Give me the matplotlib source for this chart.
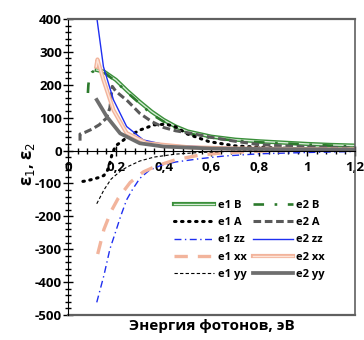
import matplotlib
matplotlib.use('Agg')
import matplotlib.pyplot as plt
import matplotlib.patheffects as pe
from matplotlib.ticker import MultipleLocator, FixedLocator

plt.rcParams['font.family'] = ['Open Sans', 'DejaVu Sans']
plt.rcParams['axes.unicode_minus'] = False

# e1 B / e2 B
x_e1B = [0.12, 0.15, 0.2, 0.25, 0.3, 0.35, 0.4, 0.45, 0.5, 0.6, 0.7, 0.8, 0.9, 1.0, 1.1, 1.2]
y_e1B = [245, 240, 215, 180, 148, 118, 93, 73, 58, 42, 33, 28, 24, 20, 17, 15]
x_e2B = [0.083, 0.085, 0.09, 0.1, 0.11, 0.12, 0.13, 0.15, 0.2, 0.25, 0.3, 0.35, 0.4,
         0.45, 0.5, 0.6, 0.7, 0.8, 0.9, 1.0, 1.1, 1.2]
y_e2B = [175, 200, 225, 238, 243, 245, 244, 238, 210, 175, 143, 110, 88, 68, 52, 38,
         30, 25, 22, 18, 15, 12]
# e1 A / e2 A
x_e1A = [0.062, 0.08, 0.1, 0.13, 0.15, 0.165, 0.175, 0.185, 0.2, 0.22, 0.25, 0.3, 0.36,
         0.41, 0.45, 0.5, 0.59, 0.7, 0.8, 0.9, 1.0, 1.1, 1.2]
y_e1A = [-94, -92, -88, -82, -76, -60, -38, -8, 15, 25, 42, 62, 78, 80, 72, 50, 27, 14,
         10, 7, 5, 4, 3]
x_e2A = [0.05, 0.05, 0.07, 0.1, 0.13, 0.16, 0.175, 0.185, 0.2, 0.25, 0.3, 0.35, 0.4,
         0.45, 0.5, 0.6, 0.7, 0.8, 0.9, 1.0, 1.1, 1.2]
y_e2A = [30, 50, 55, 65, 78, 98, 130, 195, 180, 150, 113, 88, 70, 60, 54, 40, 28, 18,
         14, 11, 9, 8]
# e1 zz / e2 zz
x_e1zz = [0.12, 0.15, 0.175, 0.2, 0.22, 0.245, 0.27, 0.3, 0.34, 0.39, 0.45, 0.55, 0.65,
          0.8, 1.0, 1.2]
y_e1zz = [-462, -380, -300, -245, -200, -150, -118, -85, -60, -45, -35, -25, -17, -10,
          -6, -3]
x_e2zz = [0.117, 0.121, 0.148, 0.19, 0.245, 0.315, 0.41, 0.6, 0.8, 1.0, 1.2]
y_e2zz = [440, 400, 255, 154, 73, 32, 17, 10, 7, 5, 4]
# e1 xx / e2 xx
x_e1xx = [0.124, 0.15, 0.18, 0.21, 0.26, 0.315, 0.37, 0.45, 0.55, 0.65, 0.8, 1.0, 1.2]
y_e1xx = [-315, -240, -185, -145, -97, -65, -47, -28, -14, -7, -2, 2, 5]
x_e2xx = [0.118, 0.123, 0.148, 0.19, 0.245, 0.33, 0.5, 0.7, 1.0, 1.2]
y_e2xx = [255, 277, 215, 123, 53, 22, 10, 6, 4, 3]
# e1 yy / e2 yy
x_e1yy = [0.12, 0.15, 0.18, 0.22, 0.25, 0.3, 0.36, 0.45, 0.55, 0.7, 0.9, 1.2]
y_e1yy = [-162, -120, -87, -62, -49, -32, -20, -11, -6, -2, 0, 1]
x_e2yy = [0.12, 0.162, 0.218, 0.3, 0.4, 0.6, 0.9, 1.2]
y_e2yy = [154, 103, 52, 22, 12, 6, 4, 3]

xticks = [0, 0.2, 0.4, 0.6, 0.8, 1.0, 1.2]
xtick_labels = ['0', '0,2', '0,4', '0,6', '0,8', '1', '1,2']

fig = plt.figure(figsize=(3.64, 3.40), dpi=100)
ax = fig.add_axes([0.187, 0.074, 0.788, 0.870])

green = '#3a8f3a'
salmon = '#f2b49c'
blue = '#1f2ff0'

double_green = [pe.Stroke(linewidth=3.0, foreground=green), pe.Normal()]
double_salmon = [pe.Stroke(linewidth=3.0, foreground=salmon), pe.Normal()]

h = {}
h['e1 B'], = ax.plot(x_e1B, y_e1B, color='#d6ecd6', lw=1.0, path_effects=double_green)
h['e2 B'], = ax.plot(x_e2B, y_e2B, color='#2c7a2c', lw=1.9, dashes=(4, 4, 1, 4))
h['e1 A'], = ax.plot(x_e1A, y_e1A, color='black', lw=2.2, dashes=(0.5, 1.8),
                     dash_capstyle='round')
h['e2 A'], = ax.plot(x_e2A, y_e2A, color='#5a5a5a', lw=2.2, dashes=(2.5, 1.2))
h['e1 zz'], = ax.plot(x_e1zz, y_e1zz, color=blue, lw=1.0, dashes=(5, 2.5, 1, 2.5))
h['e2 zz'], = ax.plot(x_e2zz, y_e2zz, color=blue, lw=1.0)
h['e1 xx'], = ax.plot(x_e1xx, y_e1xx, color=salmon, lw=2.4, dashes=(4, 3))
h['e2 xx'], = ax.plot(x_e2xx, y_e2xx, color='#fde4d8', lw=1.0, path_effects=double_salmon)
h['e1 yy'], = ax.plot(x_e1yy, y_e1yy, color='black', lw=0.8, dashes=(3, 2))
h['e2 yy'], = ax.plot(x_e2yy, y_e2yy, color='#6e6e6e', lw=2.7)

ax.set_xlim(0, 1.2)
ax.set_ylim(-500, 400)

ax.spines['bottom'].set_position(('data', 0))
ax.spines['bottom'].set_color('black')
ax.spines['left'].set_color('black')
ax.spines['top'].set_color('#606060')
ax.spines['right'].set_color('#606060')
ax.axhline(-500, color='#606060', lw=1.6, clip_on=False)
ax.spines['top'].set_linewidth(1.6)
ax.spines['right'].set_linewidth(1.2)

ax.xaxis.set_major_locator(FixedLocator(xticks))
ax.set_xticklabels(xtick_labels)
ax.xaxis.set_minor_locator(MultipleLocator(0.04))
ax.yaxis.set_major_locator(MultipleLocator(100))
ax.yaxis.set_minor_locator(MultipleLocator(20))
ax.tick_params(which='major', direction='inout', length=7, width=1, labelsize=9.5)
ax.tick_params(axis='y', which='major', pad=1)
ax.tick_params(axis='x', which='major', pad=4)
ax.tick_params(which='minor', direction='inout', length=4, width=1)
for lab in ax.get_xticklabels() + ax.get_yticklabels():
    lab.set_fontweight('bold')

ax.set_xlabel('Энергия фотонов, эВ', fontsize=11, fontweight='bold')
ax.xaxis.set_label_coords(0.5, -0.015)
ax.set_ylabel('ε$_1$, ε$_2$', fontsize=12, fontweight='bold')
ax.yaxis.set_label_coords(-0.11, 0.51)

order = ['e1 B', 'e1 A', 'e1 zz', 'e1 xx', 'e1 yy', 'e2 B', 'e2 A', 'e2 zz', 'e2 xx', 'e2 yy']
ax.legend([h[k] for k in order], order, ncol=2, loc='lower right',
          bbox_to_anchor=(0.915, 0.10), frameon=False,
          prop={'size': 8, 'weight': 'bold'}, handlelength=3.6, handletextpad=0.3,
          columnspacing=0.6, labelspacing=0.55, borderpad=0)

fig.savefig('out.png', dpi=100)
